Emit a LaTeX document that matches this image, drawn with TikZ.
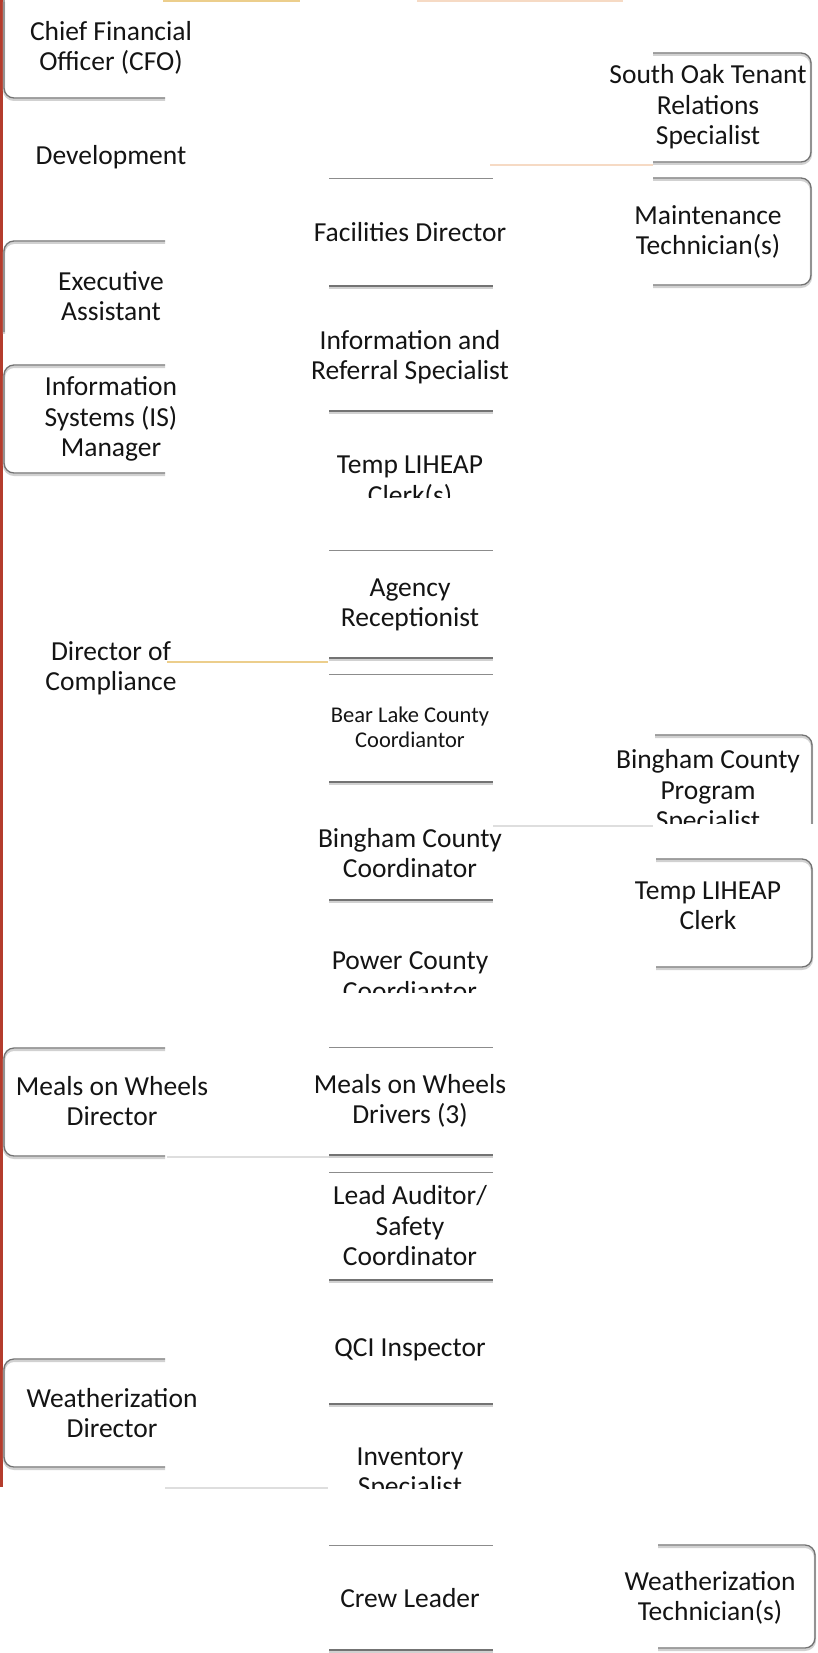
\documentclass[tikz,border=0pt]{standalone}
\usepackage{fontspec}
\setmainfont{Carlito}
\begin{document}
\begin{tikzpicture}[x=1pt,y=-1pt,
  lbl/.style={align=center, text=black!92, font=\fontsize{27.5}{30.5}\selectfont, inner sep=0pt},
  sml/.style={align=center, text=black!92, font=\fontsize{22.5}{25}\selectfont, inner sep=0pt},
  boxline/.style={draw=black!55, line width=1.3pt, rounded corners=10pt,
     preaction={draw=black!18, line width=2.4pt, transform canvas={yshift=-1.8pt}}},
  topline/.style={draw=black!45, line width=0.9pt},
  botline/.style={draw=black!55, line width=1.4pt,
     preaction={draw=black!18, line width=2.4pt, transform canvas={yshift=-1.8pt}}},
  conn/.style={line width=1.1pt},
  yel/.style={conn, draw={rgb,255:red,236;green,206;blue,140}},
  org/.style={conn, draw={rgb,255:red,246;green,218;blue,196}},
  fnt/.style={conn, draw=black!13}
]
% canvas
\fill[white] (0,0) rectangle (817,1653);
\useasboundingbox (0,0) rectangle (817,1653);

% red left edge
\draw[draw={rgb,255:red,180;green,60;blue,45}, line width=2.6pt] (1.3,0) -- (1.3,1487);

% ---------- left column boxes ----------
\draw[boxline] (4,0) -- (4,98) -- (165,98);
\draw[boxline] (165,241) -- (4,241) -- (4,332);
\draw[boxline] (165,365) -- (4,365) -- (4,473) -- (165,473);
\draw[boxline] (165,1048) -- (4,1048) -- (4,1156) -- (165,1156);
\draw[boxline] (165,1359) -- (4,1359) -- (4,1467) -- (165,1467);

% ---------- middle column lines ----------
\foreach \y in {178,550,674,1047,1172,1545}
  \draw[topline] (329,\y) -- (493,\y);
\foreach \y in {286,411,658,782,900,1155,1280,1404,1650}
  \draw[botline] (329,\y) -- (493,\y);

% ---------- right column boxes ----------
\draw[boxline] (653,53) -- (811,53) -- (811,162) -- (653,162);
\draw[boxline] (653,178) -- (811,178) -- (811,285) -- (653,285);
\begin{scope}
  \clip (600,700) rectangle (817,823);
  \draw[boxline] (655,735) -- (812,735) -- (812,840);
\end{scope}
\draw[boxline] (656,859) -- (812,859) -- (812,967) -- (656,967);
\draw[boxline] (658,1545) -- (815,1545) -- (815,1648) -- (658,1648);

% ---------- connector ends ----------
\coordinate (t1a) at (163,1);   \coordinate (t1b) at (300,1);
\coordinate (t2a) at (417,1);   \coordinate (t2b) at (623,1);
\coordinate (soa) at (490,165); \coordinate (sob) at (653,165);
\coordinate (dca) at (167,662); \coordinate (dcb) at (328,662);
\coordinate (bpa) at (493,826); \coordinate (bpb) at (653,826);
\coordinate (mwa) at (167,1157);\coordinate (mwb) at (329,1157);
\coordinate (iva) at (165,1488);\coordinate (ivb) at (328,1488);

\draw[yel] (t1a) -- (t1b);
\draw[org] (t2a) -- (t2b);
\draw[org] (soa) -- (sob);
\draw[yel] (dca) -- (dcb);
\draw[fnt] (bpa) -- (bpb);
\draw[fnt] (mwa) -- (mwb);
\draw[fnt] (iva) -- (ivb);

% ---------- left texts ----------
\node[lbl] (cfo)  at (111,48)   {Chief Financial\\Officer (CFO)};
\node[lbl] (dev)  at (111,157)  {Development};
\node[lbl] (exec) at (111,296)  {Executive\\Assistant};
\node[lbl] (ism)  at (111,419)  {Information\\Systems (IS)\\Manager};
\node[lbl] (doc)  at (111,668)  {Director of\\Compliance};
\node[lbl] (mowd) at (112,1101) {Meals on Wheels\\Director};
\node[lbl] (wzd)  at (112,1413) {Weatherization\\Director};

% ---------- middle texts ----------
\node[lbl] (fac)    at (410,232)  {Facilities Director};
\node[lbl] (iar)    at (410,357)  {Information and\\Referral Specialist};
\begin{scope}
  \clip (320,430) rectangle (500,497);
  \node[lbl] (temp) at (410,482) {Temp LIHEAP\\Clerk(s)};
\end{scope}
\node[lbl] (agency) at (410,605)  {Agency\\Receptionist};
\node[sml] (bear)   at (410,727)  {Bear Lake County\\Coordiantor};
\node[lbl] (bcc)    at (410,853)  {Bingham County\\Coordinator};
\begin{scope}
  \clip (320,930) rectangle (500,992);
  \node[lbl] (pcc) at (410,976) {Power County\\Coordiantor};
\end{scope}
\node[lbl] (mowdr)  at (410,1101) {Meals on Wheels\\Drivers (3)};
\node[lbl] (lead)   at (410,1226) {Lead Auditor/\\Safety\\Coordinator};
\node[lbl] (qci)    at (410,1350) {QCI Inspector};
\begin{scope}
  \clip (320,1420) rectangle (500,1488);
  \node[lbl] (inv) at (410,1474) {Inventory\\Specialist};
\end{scope}
\node[lbl] (crew)   at (410,1598) {Crew Leader};

% ---------- right texts ----------
\node[lbl] (so)    at (708,107)  {South Oak Tenant\\Relations\\Specialist};
\node[lbl] (maint) at (708,232)  {Maintenance\\Technician(s)};
\begin{scope}
  \clip (600,740) rectangle (817,823);
  \node[lbl] (bps) at (708,792) {Bingham County\\Program\\Specialist};
\end{scope}
\node[lbl] (tlc)   at (708,906)  {Temp LIHEAP\\Clerk};
\node[lbl] (wzt)   at (710,1598) {Weatherization\\Technician(s)};
\end{tikzpicture}
\end{document}
